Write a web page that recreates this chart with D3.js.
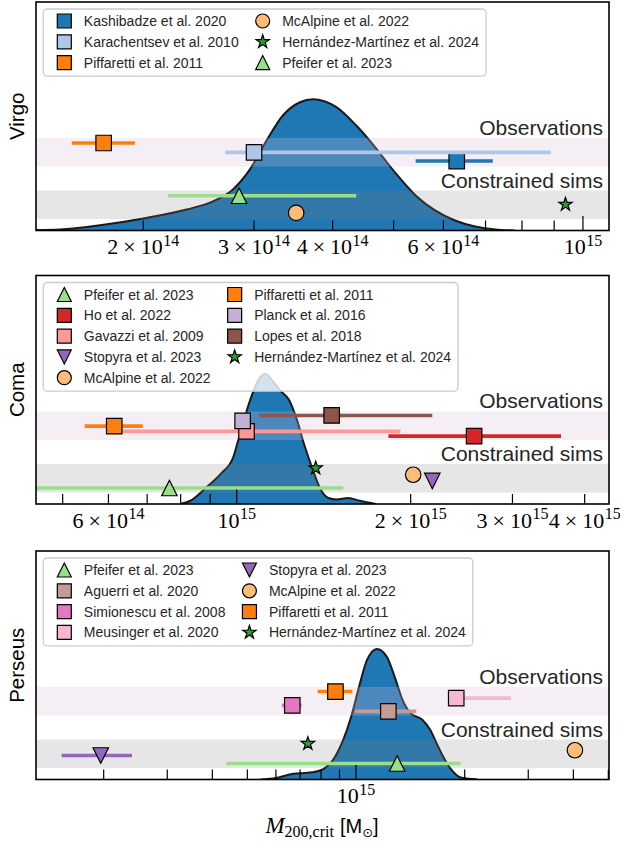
<!DOCTYPE html>
<html><head><meta charset="utf-8">
<script src="https://cdn.jsdelivr.net/npm/d3@7"></script>
<style>body{margin:0;background:#fff}</style>
</head><body><svg id="chart" width="620" height="844"></svg>
<script>
// ---------------- DATA ----------------
const panelNames = ["Virgo", "Coma", "Perseus"];

// x-axis ranges (M200,crit in Msun)
const virgoDomain = [1.3505e14, 1.1e15];
const comaDomain = [4.496e14, 4.407e15];
const perseusDomain = [1.2988e14, 5.021e15];

// labelled ticks
const virgoTickLabels = [2e14, 3e14, 4e14, 6e14, 1e15];
const comaTickLabels = [6e14, 1e15, 2e15, 3e15, 4e15];
const perseusTickLabels = [1e15];

// KDE of constrained-simulation masses (density in axis-height units)
const virgoKdeMass = [1.350e14, 1.475e14, 1.707e14, 2.0e14, 2.344e14, 2.581e14, 2.777e14, 2.955e14, 3.142e14, 3.336e14, 3.549e14, 3.722e14, 4.05e14, 4.358e14, 4.62e14, 5.04e14, 5.42e14, 5.82e14, 6.26e14, 6.74e14, 7.25e14, 7.80e14];
const virgoKdeDensity = [0.002, 0.0044, 0.0228, 0.0526, 0.0921, 0.1272, 0.1798, 0.2675, 0.3947, 0.5044, 0.5614, 0.5746, 0.5408, 0.4605, 0.3816, 0.25, 0.1535, 0.0877, 0.0439, 0.0175, 0.0044, 0];

const comaKdeMass = [7.98e14, 8.30e14, 8.873e14, 9.42e14, 9.864e14, 1.0132e15, 1.0544e15, 1.097e15, 1.1194e15, 1.1555e15, 1.193e15, 1.231e15, 1.2705e15, 1.311e15, 1.3532e15, 1.396e15, 1.441e15, 1.488e15, 1.559e15, 1.634e15, 1.742e15];
const comaKdeDensity = [0, 0.0131, 0.0740, 0.1358, 0.2046, 0.3065, 0.4527, 0.5529, 0.5703, 0.5368, 0.4933, 0.4571, 0.3701, 0.2538, 0.1524, 0.0653, 0.0261, 0.0196, 0.0261, 0.0144, 0];

const perseusKdeMass = [5.44e14, 6.003e14, 6.647e14, 7.546e14, 8.136e14, 8.769e14, 9.222e14, 9.698e14, 1.02e15, 1.0727e15, 1.1426e15, 1.2162e15, 1.279e15, 1.3453e15, 1.4148e15, 1.5265e15, 1.6045e15, 1.687e15, 1.82e15, 1.963e15, 2.171e15];
const perseusKdeDensity = [0, 0.0065, 0.024, 0.0314, 0.0466, 0.1016, 0.1744, 0.276, 0.4068, 0.5233, 0.5713, 0.5377, 0.4505, 0.3489, 0.2909, 0.2617, 0.2181, 0.1453, 0.0511, 0.0074, 0];

// Mass estimates (central value, lower, upper) and their vertical offset (axis units)
const virgoLabels = ["Kashibadze et al. 2020", "Karachentsev et al. 2010", "Piffaretti et al. 2011", "McAlpine et al. 2022", "Hernández-Martínez et al. 2024", "Pfeifer et al. 2023"];
const virgoMass = [6.30e14, 3.0e14, 1.73e14, 3.50e14, 9.38e14, 2.84e14];
const virgoLow = [5.42e14, 2.70e14, 1.54e14, null, null, 2.19e14];
const virgoHigh = [7.19e14, 8.89e14, 1.94e14, null, null, 4.36e14];
const virgoOffset = [0.304, 0.342, 0.383, 0.077, 0.114, 0.152];

const comaLabels = ["Pfeifer et al. 2023", "Ho et al. 2022", "Gavazzi et al. 2009", "Stopyra et al. 2023", "McAlpine et al. 2022", "Piffaretti et al. 2011", "Planck et al. 2016", "Lopes et al. 2018", "Hernández-Martínez et al. 2024"];
const comaMass = [7.65e14, 2.575e15, 1.04e15, 2.18e15, 2.02e15, 6.14e14, 1.024e15, 1.46e15, 1.37e15];
const comaLow = [4.0e14, 1.83e15, 6.2e14, null, null, 5.46e14, null, 1.094e15, null];
const comaHigh = [1.53e15, 3.64e15, 1.92e15, null, null, 6.88e14, null, 2.18e15, null];
const comaOffset = [0.07, 0.297, 0.318, 0.101, 0.128, 0.341, 0.364, 0.3875, 0.157];

const perseusLabels = ["Pfeifer et al. 2023", "Aguerri et al. 2020", "Simionescu et al. 2008", "Meusinger et al. 2020", "Stopyra et al. 2023", "McAlpine et al. 2022", "Piffaretti et al. 2011", "Hernández-Martínez et al. 2024"];
const perseusMass = [1.30e15, 1.229e15, 6.66e14, 1.895e15, 1.963e14, 4.04e15, 8.77e14, 7.355e14];
const perseusLow = [4.375e14, 9.95e14, 6.23e14, 1.85e15, 1.53e14, null, 7.83e14, null];
const perseusHigh = [1.948e15, 1.469e15, 7.07e14, 2.687e15, 2.396e14, null, 9.77e14, null];
const perseusOffset = [0.07, 0.298, 0.324, 0.356, 0.105, 0.128, 0.385, 0.157];

// band extents (axis units)
const bandNames = ["Observations", "Constrained sims"];
const bandLow = [0.28, 0.05];
const bandHigh = [0.405, 0.175];

// ---------------- STYLES ----------------
const styles = {
  "Kashibadze et al. 2020": {shape: "square", color: "#1f77b4"},
  "Karachentsev et al. 2010": {shape: "square", color: "#aec7e8"},
  "Piffaretti et al. 2011": {shape: "square", color: "#ff7f0e"},
  "McAlpine et al. 2022": {shape: "circle", color: "#ffbb78"},
  "Hernández-Martínez et al. 2024": {shape: "star", color: "#2ca02c"},
  "Pfeifer et al. 2023": {shape: "tri_up", color: "#98df8a"},
  "Ho et al. 2022": {shape: "square", color: "#d62728"},
  "Gavazzi et al. 2009": {shape: "square", color: "#ff9896"},
  "Stopyra et al. 2023": {shape: "tri_down", color: "#9467bd"},
  "Planck et al. 2016": {shape: "square", color: "#c5b0d5"},
  "Lopes et al. 2018": {shape: "square", color: "#8c564b"},
  "Aguerri et al. 2020": {shape: "square", color: "#c49c94"},
  "Simionescu et al. 2008": {shape: "square", color: "#e377c2"},
  "Meusinger et al. 2020": {shape: "square", color: "#f7b6d2"}
};
const bandFill = ["#d8bfd8", "#808080"];
const bandOpacity = [0.25, 0.2];

const SANS = "'Liberation Sans', Arial, Helvetica, sans-serif";
const SERIF = "'Liberation Serif', 'Times New Roman', serif";

function markerPath(shape, s) {
  const h = s / 2;
  switch (shape) {
    case "square": return `M${-h},${-h}H${h}V${h}H${-h}Z`;
    case "circle": return `M${h},0A${h},${h} 0 1,1 ${-h},0A${h},${h} 0 1,1 ${h},0Z`;
    case "tri_up": return `M0,${-h}L${h},${h}L${-h},${h}Z`;
    case "tri_down": return `M0,${h}L${h},${-h}L${-h},${-h}Z`;
    case "star": {
      const R = h, r = h * 0.382;
      let p = "";
      for (let i = 0; i < 10; i++) {
        const a = -Math.PI / 2 + i * Math.PI / 5;
        const rad = i % 2 === 0 ? R : r;
        p += (i === 0 ? "M" : "L") + (rad * Math.cos(a)).toFixed(2) + "," + (rad * Math.sin(a)).toFixed(2);
      }
      return p + "Z";
    }
  }
}
function markerSize(shape, legend) {
  if (shape === "star") return 14;
  return legend ? 14 : 15.5;
}

const svg = d3.select("#chart");
const L = 36, R = 609;
const panelTops = [2, 275.5, 551];
const panelH = 228.5;

const panels = [
  {name: panelNames[0], domain: virgoDomain, ticks: virgoTickLabels, kM: virgoKdeMass, kD: virgoKdeDensity,
   labels: virgoLabels, mass: virgoMass, low: virgoLow, high: virgoHigh, off: virgoOffset},
  {name: panelNames[1], domain: comaDomain, ticks: comaTickLabels, kM: comaKdeMass, kD: comaKdeDensity,
   labels: comaLabels, mass: comaMass, low: comaLow, high: comaHigh, off: comaOffset},
  {name: panelNames[2], domain: perseusDomain, ticks: perseusTickLabels, kM: perseusKdeMass, kD: perseusKdeDensity,
   labels: perseusLabels, mass: perseusMass, low: perseusLow, high: perseusHigh, off: perseusOffset}
];

panels.forEach((P, pi) => {
  const top = panelTops[pi], bottom = top + panelH;
  const x = d3.scaleLog().domain(P.domain).range([L, R]);
  const y = d3.scaleLinear().domain([0, 1]).range([bottom, top]);
  const g = svg.append("g");
  const clipId = "clip" + pi;
  g.append("clipPath").attr("id", clipId).append("rect")
    .attr("x", L).attr("y", top).attr("width", R - L).attr("height", bottom - top);
  const plot = g.append("g").attr("clip-path", `url(#${clipId})`);

  // KDE
  const kde = P.kM.map((m, i) => [m, P.kD[i]]);
  const area = d3.area().x(d => x(d[0])).y0(y(0)).y1(d => y(d[1])).curve(d3.curveMonotoneX);
  const line = d3.line().x(d => x(d[0])).y(d => y(d[1])).curve(d3.curveMonotoneX);
  plot.append("path").attr("d", area(kde)).attr("fill", "#1f77b4");
  plot.append("path").attr("d", line(kde)).attr("fill", "none").attr("stroke", "#1a1a1a").attr("stroke-width", 2);

  // bands
  bandNames.forEach((b, bi) => {
    plot.append("rect").attr("x", L).attr("width", R - L)
      .attr("y", y(bandHigh[bi])).attr("height", y(bandLow[bi]) - y(bandHigh[bi]))
      .attr("fill", bandFill[bi]).attr("fill-opacity", bandOpacity[bi]);
  });

  // error bars + markers
  P.labels.forEach((lab, i) => {
    const st = styles[lab];
    const yy = y(P.off[i]);
    if (P.low[i] != null) {
      plot.append("line").attr("x1", x(P.low[i])).attr("x2", x(P.high[i]))
        .attr("y1", yy).attr("y2", yy).attr("stroke", st.color).attr("stroke-width", 3.6);
    }
    plot.append("path").attr("d", markerPath(st.shape, markerSize(st.shape, false)))
      .attr("transform", `translate(${x(P.mass[i])},${yy})`)
      .attr("fill", st.color).attr("stroke", "#000").attr("stroke-width", 1.2);
  });

  // band labels
  bandNames.forEach((b, bi) => {
    g.append("text").attr("x", R - 6).attr("y", y(bandHigh[bi]) - 3)
      .attr("text-anchor", "end").attr("font-family", SANS).attr("font-size", 21)
      .attr("fill", "#262626").text(b);
  });

  // legend
  const lg = g.append("g");
  const rect = lg.append("rect");
  const bx = 43.3, by = top + 7, rowH = 20.8, firstRow = 12;
  const n = P.labels.length, nrows = Math.ceil(n / 2);
  const cols = [P.labels.slice(0, nrows), P.labels.slice(nrows)];
  let markerX = bx + 21, right = 0;
  cols.forEach((col, ci) => {
    const textX = markerX + 19.5;
    let maxW = 0;
    col.forEach((lab, ri) => {
      const st = styles[lab];
      const cy = by + firstRow + ri * rowH;
      lg.append("path").attr("d", markerPath(st.shape, markerSize(st.shape, true)))
        .attr("transform", `translate(${markerX},${cy})`)
        .attr("fill", st.color).attr("stroke", "#000").attr("stroke-width", 1.2);
      const t = lg.append("text").attr("x", textX).attr("y", cy + 5)
        .attr("font-family", SANS).attr("font-size", 14).attr("fill", "#262626").text(lab);
      maxW = Math.max(maxW, t.node().getComputedTextLength());
    });
    right = textX + maxW;
    markerX = textX + maxW + 24;
  });
  rect.attr("x", bx).attr("y", by).attr("width", right + 7 - bx)
    .attr("height", firstRow + (nrows - 1) * rowH + 13.5)
    .attr("rx", 4).attr("fill", "#fff").attr("fill-opacity", 0.8)
    .attr("stroke", "#cccccc").attr("stroke-width", 1.3);

  // ticks (inward, bottom only)
  const e0 = Math.floor(Math.log10(P.domain[0])), e1 = Math.ceil(Math.log10(P.domain[1]));
  const tickG = g.append("g");
  for (let e = e0; e <= e1; e++) {
    for (let k = 1; k <= 9; k++) {
      const v = k * Math.pow(10, e);
      if (v < P.domain[0] * 1.0001 || v > P.domain[1] * 0.9999) continue;
      const len = k === 1 ? 14.5 : 10;
      tickG.append("line").attr("x1", x(v)).attr("x2", x(v))
        .attr("y1", bottom).attr("y2", bottom - len)
        .attr("stroke", "#000").attr("stroke-width", 1.2);
    }
  }
  // tick labels
  P.ticks.forEach(v => {
    const e = Math.floor(Math.log10(v) + 1e-9);
    const m = Math.round(v / Math.pow(10, e));
    const t = g.append("text").attr("x", x(v)).attr("y", bottom + 23.5)
      .attr("text-anchor", "middle").attr("font-family", SERIF).attr("font-size", 22).attr("fill", "#000");
    if (m !== 1) {
      t.append("tspan").text(m);
      t.append("tspan").attr("dx", 5).text("×");
      t.append("tspan").attr("dx", 5).text("10");
    } else {
      t.append("tspan").text("10");
    }
    t.append("tspan").attr("font-size", 16).attr("dy", -8.5).attr("dx", 0.5).text(e);
  });

  // frame
  g.append("rect").attr("x", L).attr("y", top).attr("width", R - L).attr("height", bottom - top)
    .attr("fill", "none").attr("stroke", "#000").attr("stroke-width", 1.6);

  // y label
  g.append("text").attr("transform", `translate(23.5,${(top + bottom) / 2}) rotate(-90)`)
    .attr("text-anchor", "middle").attr("font-family", SANS).attr("font-size", 20.5)
    .attr("fill", "#000").text(P.name);
});

// x-axis label
const xl = svg.append("text").attr("x", 322).attr("y", 833).attr("text-anchor", "middle")
  .attr("font-size", 23).attr("fill", "#000");
xl.append("tspan").attr("font-family", SERIF).attr("font-style", "italic").text("M");
xl.append("tspan").attr("font-family", SERIF).attr("font-size", 16).attr("dy", 4).text("200,crit");
xl.append("tspan").attr("font-family", SANS).attr("font-size", 20).attr("dy", -4).attr("dx", 6).text("[M");
xl.append("tspan").attr("font-family", "'DejaVu Sans', sans-serif").attr("font-size", 13).attr("dy", 4).text("⊙");
xl.append("tspan").attr("font-family", SANS).attr("font-size", 20).attr("dy", -4).text("]");
</script></body></html>
